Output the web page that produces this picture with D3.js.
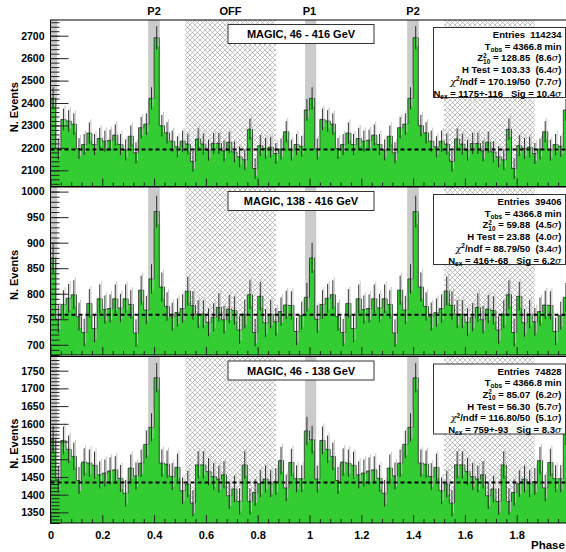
<!DOCTYPE html>
<html lang="en">
<head>
<meta charset="UTF-8">
<title>MAGIC phaseograms</title>
<script src="https://cdn.jsdelivr.net/npm/d3@7/dist/d3.min.js"></script>
<style>
  body { margin: 0; background: #fff; }
  svg { display: block; }
  text { font-family: "Liberation Sans", Arial, sans-serif; font-weight: bold; fill: #000; }
  .stat { font-size: 9.5px; white-space: pre; }
</style>
</head>
<body>
<svg width="566" height="552"></svg>
<script>
// counts per phase bin (50 bins of 0.02), second period is the same histogram repeated
const counts46_416 = [2421, 2195, 2327, 2320, 2306, 2197, 2215, 2266, 2215, 2242,
                      2230, 2234, 2257, 2215, 2191, 2252, 2178, 2290, 2306, 2421,
                      2691, 2299, 2267, 2230, 2205, 2230, 2217, 2140, 2240, 2217,
                      2190, 2220, 2220, 2187, 2225, 2182, 2160, 2147, 2283, 2108,
                      2210, 2198, 2203, 2175, 2195, 2272, 2190, 2215, 2207, 2369];
const counts138_416 = [870, 750, 779, 791, 798, 755, 724, 781, 732, 790,
                       769, 771, 790, 772, 790, 779, 723, 807, 768, 829,
                       961, 813, 775, 755, 763, 771, 805, 777, 760, 760,
                       744, 754, 773, 749, 770, 767, 729, 760, 798, 724,
                       795, 743, 760, 745, 765, 778, 777, 726, 757, 793];
const counts46_138 = [1555, 1444, 1553, 1528, 1508, 1440, 1492, 1489, 1483, 1456,
                      1461, 1467, 1470, 1446, 1404, 1475, 1453, 1489, 1542, 1590,
                      1730, 1489, 1486, 1451, 1477, 1411, 1430, 1376, 1484, 1484,
                      1465, 1451, 1444, 1456, 1397, 1416, 1381, 1484, 1381, 1406,
                      1431, 1444, 1431, 1437, 1496, 1419, 1491, 1445, 1445, 1580];

const baselines = [2193, 759, 1434];
const titles = ["MAGIC, 46 - 416 GeV", "MAGIC, 138 - 416 GeV", "MAGIC, 46 - 138 GeV"];
const entries = ["114234", "39406", "74828"];
const tobs = ["4366.8", "4366.8", "4366.8"];
const z2 = ["128.85  (8.6", "59.88  (4.5", "85.07  (6.2"];
const hTest = ["103.33  (6.4", "23.88  (4.0", "56.30  (5.7"];
const chi2 = ["170.19/50  (7.7", "88.79/50  (3.4", "116.80/50  (5.1"];
const nex = ["1175+-116", "416+-68", "759+-93"];
const sig = ["10.4", "6.2", "8.3"];

const yMajor = [d3.range(2100, 2701, 100), d3.range(700, 1001, 50), d3.range(1350, 1751, 50)];
const yMinorStep = [20, 10, 10];
const yDomains = [[2028, 2770], [680, 1009], [1320, 1790]];

const pulseRegions = [[-0.017, 0.026], [0.377, 0.422], [0.983, 1.026], [1.377, 1.422]];
const offRegions = [[0.52, 0.87], [1.52, 1.87]];
const topLabels = [["P2", 0.4], ["OFF", 0.695], ["P1", 1.0], ["P2", 1.4]];
const xTicks = [0, 0.2, 0.4, 0.6, 0.8, 1, 1.2, 1.4, 1.6, 1.8, 2];

const allCounts = [counts46_416, counts138_416, counts46_138];
const panelBox = [[20, 186.5], [187, 355], [356.5, 523]];

const svg = d3.select("svg");
const x = d3.scaleLinear().domain([0, 2]).range([50.5, 568.5]);
const binW = 0.02;

// crosshatch for OFF region
const defs = svg.append("defs");
const pat = defs.append("pattern").attr("id", "hatch")
  .attr("patternUnits", "userSpaceOnUse").attr("width", 5).attr("height", 5);
pat.append("path").attr("d", "M0,0L5,5M5,0L0,5").attr("stroke", "#a8a8a8").attr("stroke-width", 0.7);

allCounts.forEach((c, i) => {
  const [top, bottom] = panelBox[i];
  const y = d3.scaleLinear().domain(yDomains[i]).range([bottom, top]);
  const bins = c.concat(c).map((v, k) => ({ x0: k * binW, v }));
  bins.push({ x0: 2, v: c[c.length - 1] });

  const clipId = "clip" + i;
  defs.append("clipPath").attr("id", clipId)
    .append("rect").attr("x", x(0)).attr("y", top).attr("width", x(2) - x(0)).attr("height", bottom - top);

  const g = svg.append("g");
  const plot = g.append("g").attr("clip-path", `url(#${clipId})`);

  plot.selectAll(".off").data(offRegions).join("rect")
    .attr("x", d => x(d[0])).attr("width", d => x(d[1]) - x(d[0]))
    .attr("y", top).attr("height", bottom - top)
    .attr("fill", "url(#hatch)");

  plot.selectAll(".pulse").data(pulseRegions).join("rect")
    .attr("x", d => x(d[0])).attr("width", d => x(d[1]) - x(d[0]))
    .attr("y", top).attr("height", bottom - top)
    .attr("fill", "#cbcbcb");

  const area = d3.area().curve(d3.curveStepAfter)
    .x(d => x(d.x0)).y0(bottom).y1(d => y(d.v));
  plot.append("path").datum(bins).attr("d", area).attr("fill", "#33cc33");
  const line = d3.line().curve(d3.curveStepAfter).x(d => x(d.x0)).y(d => y(d.v));
  plot.append("path").datum(bins).attr("d", line)
    .attr("fill", "none").attr("stroke", "#2a2a2a").attr("stroke-width", 0.8);

  const bars = bins.slice(0, 100);
  // grey shadow of the error bars
  plot.selectAll(".errg").data(bars).join("line")
    .attr("x1", d => x(d.x0 + binW / 2) + 1.5).attr("x2", d => x(d.x0 + binW / 2) + 1.5)
    .attr("y1", d => y(d.v - Math.sqrt(d.v)) - 3).attr("y2", d => y(d.v + Math.sqrt(d.v)) - 3)
    .attr("stroke", "#c4c4c4").attr("stroke-width", 1);
  plot.selectAll(".err").data(bars).join("line")
    .attr("x1", d => x(d.x0 + binW / 2)).attr("x2", d => x(d.x0 + binW / 2))
    .attr("y1", d => y(d.v - Math.sqrt(d.v))).attr("y2", d => y(d.v + Math.sqrt(d.v)))
    .attr("stroke", "#1e1e1e").attr("stroke-width", 0.9);

  plot.append("line")
    .attr("x1", x(0)).attr("x2", x(2)).attr("y1", y(baselines[i])).attr("y2", y(baselines[i]))
    .attr("stroke", "#000").attr("stroke-width", 2).attr("stroke-dasharray", "4,3");

  // y axis: long major ticks, short minor ticks pointing into the frame
  const minor = d3.range(Math.ceil(yDomains[i][0] / yMinorStep[i]) * yMinorStep[i], yDomains[i][1], yMinorStep[i]);
  g.append("g").attr("transform", `translate(${x(0)},0)`)
    .call(d3.axisLeft(y).tickValues(minor).tickSize(-9).tickFormat(""))
    .call(a => a.select(".domain").remove())
    .call(a => a.selectAll("line").attr("stroke", "#222"));
  g.append("g").attr("transform", `translate(${x(0)},0)`)
    .call(d3.axisLeft(y).tickValues(yMajor[i]).tickSize(-18).tickPadding(6).tickFormat(d3.format("d")))
    .call(a => a.select(".domain").remove())
    .call(a => a.selectAll("line").attr("stroke", "#222"))
    .call(a => a.selectAll("text").style("font-size", "10.5px").style("font-family", "Liberation Sans, Arial, sans-serif").style("font-weight", "bold"));

  // x axis ticks along bottom
  const xa = g.append("g").attr("transform", `translate(0,${bottom})`)
    .call(d3.axisBottom(x).tickValues(xTicks).tickSize(-8).tickPadding(8).tickFormat(d3.format("")))
    .call(a => a.select(".domain").remove())
    .call(a => a.selectAll("line").attr("stroke", "#222"));
  g.append("g").attr("transform", `translate(0,${bottom})`)
    .call(d3.axisBottom(x).tickValues(d3.range(0.04, 2, 0.04).filter(t => Math.abs(t * 5 - Math.round(t * 5)) > 1e-6)).tickSize(-4).tickFormat(""))
    .call(a => a.select(".domain").remove())
    .call(a => a.selectAll("line").attr("stroke", "#222"));
  if (i < 2) xa.selectAll("text").remove();
  else xa.selectAll("text").style("font-size", "11px").style("font-weight", "bold")
        .style("font-family", "Liberation Sans, Arial, sans-serif");

  // frame
  g.append("rect").attr("x", x(0)).attr("y", top).attr("width", x(2) - x(0)).attr("height", bottom - top)
    .attr("fill", "none").attr("stroke", "#000").attr("stroke-width", 1);

  g.append("text")
    .attr("transform", `translate(18,${(top + bottom) / 2 + 4}) rotate(-90)`)
    .attr("text-anchor", "middle").style("font-size", "11px").text("N. Events");

  // title box
  g.append("rect").attr("x", 228).attr("y", top + 4.5).attr("width", 146).attr("height", 19)
    .attr("fill", "#fff").attr("stroke", "#333");
  g.append("text").attr("x", 301).attr("y", top + 18).attr("text-anchor", "middle")
    .style("font-size", "11px").text(titles[i]);

  // stats box
  const bx = 433.5, by = top + 7.5;
  g.append("rect").attr("x", bx).attr("y", by).attr("width", 132).attr("height", 70)
    .attr("fill", "#fff").attr("stroke", "#333");
  const tx = 561.5, dy = 11.7, y0 = by + 10.5;
  const st = (k) => g.append("text").attr("class", "stat").attr("x", tx).attr("y", y0 + k * dy).attr("text-anchor", "end");
  st(0).text("Entries  " + entries[i]);
  const t1 = st(1); t1.append("tspan").text("T");
  t1.append("tspan").attr("dy", 2).style("font-size", "6.5px").text("obs");
  t1.append("tspan").attr("dy", -2).text(" = " + tobs[i] + " min");
  const t2 = st(2); t2.append("tspan").text("Z");
  t2.append("tspan").attr("dy", -3.5).style("font-size", "6.5px").text("2");
  t2.append("tspan").attr("dx", -3.6).attr("dy", 6).style("font-size", "6.5px").text("10");
  t2.append("tspan").attr("dy", -2.5).text(" = " + z2[i]);
  t2.append("tspan").style("font-family", "DejaVu Serif, serif").style("font-style", "italic").style("font-weight", "normal").text("σ");
  t2.append("tspan").text(")");
  const t3 = st(3); t3.append("tspan").text("H Test = " + hTest[i]);
  t3.append("tspan").style("font-family", "DejaVu Serif, serif").style("font-style", "italic").style("font-weight", "normal").text("σ");
  t3.append("tspan").text(")");
  const t4 = st(4); t4.append("tspan").style("font-family", "DejaVu Serif, serif").style("font-style", "italic").style("font-weight", "normal").text("χ");
  t4.append("tspan").attr("dy", -3.5).style("font-size", "6.5px").text("2");
  t4.append("tspan").attr("dy", 3.5).text("/ndf = " + chi2[i]);
  t4.append("tspan").style("font-family", "DejaVu Serif, serif").style("font-style", "italic").style("font-weight", "normal").text("σ");
  t4.append("tspan").text(")");
  const t5 = st(5); t5.append("tspan").text("N");
  t5.append("tspan").attr("dy", 2).style("font-size", "6.5px").text("ex");
  t5.append("tspan").attr("dy", -2).text(" = " + nex[i] + "   Sig = " + sig[i]);
  t5.append("tspan").style("font-family", "DejaVu Serif, serif").style("font-style", "italic").style("font-weight", "normal").text("σ");
});

svg.selectAll(".toplab").data(topLabels).join("text")
  .attr("x", d => x(d[1])).attr("y", 15).attr("text-anchor", "middle")
  .style("font-size", "11px").text(d => d[0]);

svg.append("text").attr("x", 531).attr("y", 549).style("font-size", "11.5px").text("Phase");
</script>
</body>
</html>
